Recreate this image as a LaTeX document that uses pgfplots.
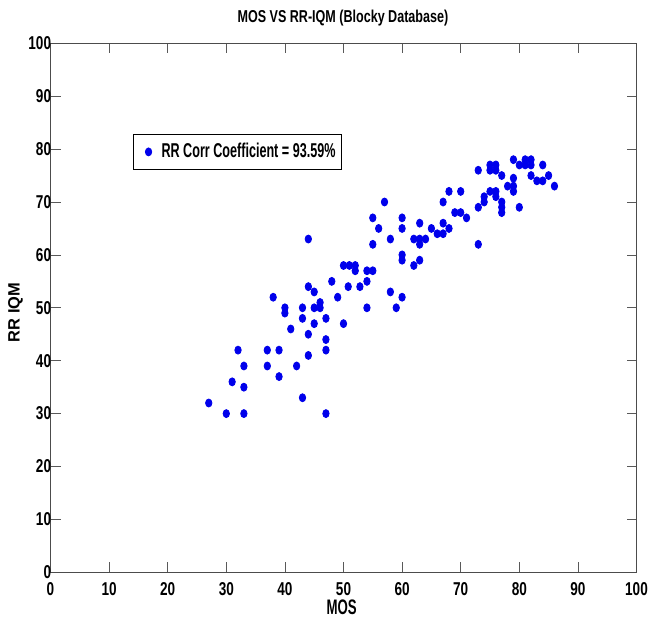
\documentclass[border=0pt]{standalone}
\usepackage{fontspec}
\setmainfont{Liberation Sans}
\newfontfamily\tickfont{Liberation Sans}[FakeStretch=0.73]
\newfontfamily\narrowfont{Liberation Sans}[FakeStretch=0.63]
\usepackage{pgfplots}
\pgfplotsset{compat=1.18}
\definecolor{dotblue}{RGB}{0,0,235}
\begin{document}
\begin{tikzpicture}
\useasboundingbox (-25.25pt,-22.35pt) rectangle (298.75pt,286.15pt);
\begin{axis}[
    scale only axis,
    width=293pt,
    height=264.5pt,
    xmin=0, xmax=100,
    ymin=0, ymax=100,
    xtick={0,10,...,100},
    ytick={0,10,...,100},
    tick align=inside,
    major tick length=5pt,
    tick style={gray!70!black, thin},
    axis line style={gray!60!black},
    /pgf/number format/assume math mode=true,
    tick label style={font=\tickfont\fontsize{9.3}{11}\selectfont\bfseries},
    yticklabel style={inner xsep=0pt, xshift=0.5pt},
    xticklabel style={inner ysep=2pt, yshift=-3pt},
    title={MOS VS RR-IQM (Blocky Database)},
    title style={at={(axis description cs:0.499,1.048)}, anchor=center, yshift=-6pt,
        font=\tickfont\fontsize{8.6}{10}\selectfont\bfseries},
    xlabel={MOS},
    xlabel style={at={(axis description cs:0.497,-0.0665)}, anchor=center,
        font=\narrowfont\fontsize{10.5}{12}\selectfont\bfseries},
    ylabel={RR IQM},
    ylabel style={at={(axis description cs:-0.0595,0.491)}, anchor=center,
        font=\fontsize{8.2}{9}\selectfont\bfseries},
    legend style={at={(0.141,0.829)}, anchor=north west, draw=black, fill=white,
        font=\narrowfont\fontsize{10}{12}\selectfont\bfseries,
        inner xsep=1pt, inner ysep=2.5pt},
    legend image code/.code={
        \path[draw=none, fill=none] (0pt,0pt) -- (11pt,0pt);
        \fill[dotblue] (6.5pt,0pt) ellipse (1.6pt and 2pt);
    },
    legend cell align={left},
]
\addplot[only marks, mark=*, mark size=1.6pt, color=dotblue,
    mark options={yscale=1.25}] coordinates {
    % lower-left cluster
    (27,32) (30,30) (33,30) (31,36) (32,42) (33,39) (33,35)
    (37,42) (39,42) (37,39) (42,39) (39,37) (43,33) (47,30)
    (44,41) (38,52) (40,50) (40,49) (43,50) (43,48) (45,53)
    (45,50) (46,51) (46,50) (45,47) (47,48) (41,46) (44,45)
    (47,44) (47,42)
    % middle
    (44,63) (44,54) (48,55) (50.8,54) (52.8,54) (49,52) (50,47)
    (50,58) (51,58) (52,58) (52,57) (54,57) (55,57) (54,55)
    (54,50) (55,62) (55,67) (56,65) (57,70) (58,63) (58,53)
    (60,52) (59,50) (60,67) (60,65) (60,60) (60,59) (62,58)
    (63,59) (62,63) (63,66) (63,63) (64,63) (63,62) (65,65)
    (66,64) (67,66) (67,64) (68,65) (67,70) (68,72) (70,72)
    (69,68) (70,68) (71,67)
    % upper-right
    (73,76) (73,69) (73,62) (74,71) (75,72) (76,72) (74,70)
    (76,71) (77,70) (77,69) (77,68) (75,77) (76,77) (75,76)
    (76,76) (77,75) (78,73) (79,74.5) (79,73) (79,72) (80,69)
    (79,78) (80,77) (81,78) (82,78) (81,77) (82,77) (84,77)
    (82,75) (83,74) (84,74) (85,75) (86,73)
};
\addlegendentry{RR Corr Coefficient = 93.59\%}
\end{axis}
\end{tikzpicture}
\end{document}
